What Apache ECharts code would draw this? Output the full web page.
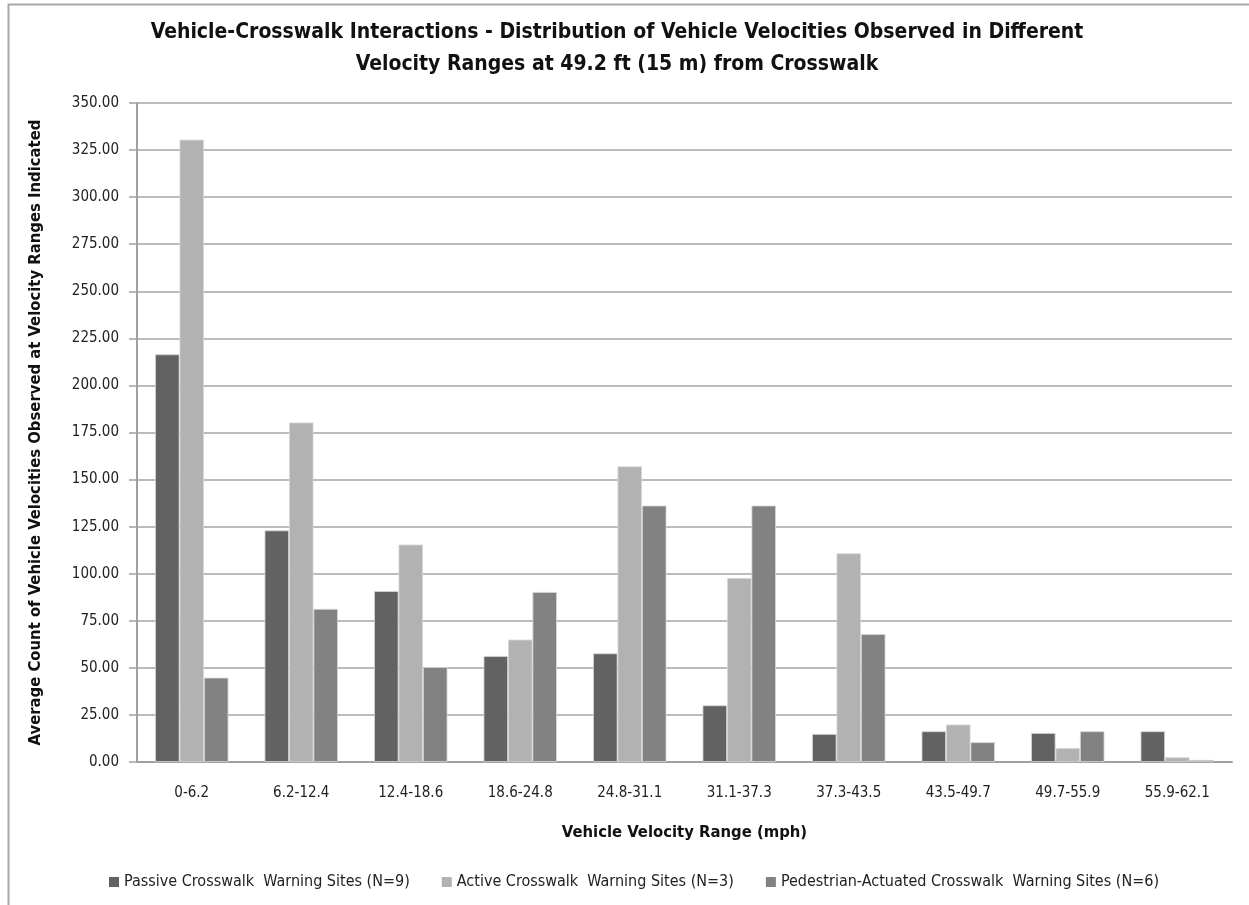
<!DOCTYPE html>
<html>
<head>
<meta charset="utf-8">
<script src="https://cdn.jsdelivr.net/npm/echarts@6/dist/echarts.min.js"></script>
<style>
html,body{margin:0;padding:0;background:#fff;}
#chart{width:1249px;height:905px;}
</style>
</head>
<body>
<div id="chart"></div>
<script>
const categories = ['0-6.2','6.2-12.4','12.4-18.6','18.6-24.8','24.8-31.1','31.1-37.3','37.3-43.5','43.5-49.7','49.7-55.9','55.9-62.1'];
const seriesNames = ['Passive Crosswalk  Warning Sites (N=9)','Active Crosswalk  Warning Sites (N=3)','Pedestrian-Actuated Crosswalk  Warning Sites (N=6)'];
const passive = [216.5, 123.0, 90.8, 56.3, 57.7, 30.1, 14.9, 16.3, 15.4, 16.3];
const active = [330.5, 180.3, 115.5, 65.0, 157.0, 97.7, 110.8, 19.9, 7.4, 2.5];
const pedestrian = [44.8, 81.3, 50.4, 90.3, 136.2, 136.2, 67.9, 10.5, 16.3, 1.1];
const yTicks = {min: 0, max: 350, interval: 25};

const FONT = "'Liberation Sans Narrow', 'DejaVu Sans Condensed', sans-serif";
const colors = ['#626262', '#b2b2b2', '#828282'];

const chart = echarts.init(document.getElementById('chart'), null, {renderer: 'canvas'});
const mk = (i, data) => ({
  name: seriesNames[i], type: 'bar', data: data,
  barGap: '0%', barCategoryGap: '33%',
  itemStyle: {color: colors[i], borderColor: '#d8d8d8', borderWidth: 0.8},
  emphasis: {disabled: true}
});
chart.setOption({
  animation: false,
  textStyle: {fontFamily: FONT},
  color: colors,
  title: {
    text: 'Vehicle-Crosswalk Interactions - Distribution of Vehicle Velocities Observed in Different\nVelocity Ranges at 49.2 ft (15 m) from Crosswalk',
    left: 612, top: 12, textAlign: 'center',
    textStyle: {fontFamily: FONT, fontSize: 21, fontWeight: 'bold', color: '#111', lineHeight: 32}
  },
  graphic: [{
    type: 'rect', shape: {x: 8.5, y: 4.5, width: 1400, height: 1000},
    style: {fill: 'none', stroke: '#a8a8a8', lineWidth: 2}, silent: true, z: -1
  }],
  legend: {
    left: 104, top: 869, itemWidth: 10, itemHeight: 10, itemGap: 32,
    icon: 'rect',
    itemStyle: {borderWidth: 0},
    textStyle: {fontFamily: FONT, fontSize: 16, color: '#222'},
    data: seriesNames
  },
  grid: {left: 137, right: 17, top: 103, bottom: 143, containLabel: false},
  xAxis: {
    type: 'category', data: categories,
    name: 'Vehicle Velocity Range (mph)', nameLocation: 'middle', nameGap: 62,
    nameTextStyle: {fontFamily: FONT, fontSize: 16.5, fontWeight: 'bold', color: '#111'},
    axisLine: {lineStyle: {color: '#a0a0a0', width: 2}},
    axisTick: {show: false},
    axisLabel: {fontFamily: FONT, fontSize: 15, color: '#222', margin: 24}
  },
  yAxis: {
    type: 'value', min: yTicks.min, max: yTicks.max, interval: yTicks.interval,
    name: 'Average Count of Vehicle Velocities Observed at Velocity Ranges Indicated',
    nameLocation: 'middle', nameGap: 93, nameRotate: 90,
    nameTextStyle: {fontFamily: FONT, fontSize: 16.5, fontWeight: 'bold', color: '#111'},
    axisLine: {show: true, lineStyle: {color: '#a0a0a0', width: 2}},
    axisTick: {show: true, length: 8, lineStyle: {color: '#a0a0a0', width: 1.5}},
    axisLabel: {fontFamily: FONT, fontSize: 15, color: '#222', margin: 18,
      formatter: v => v.toFixed(2)},
    splitLine: {lineStyle: {color: '#a4a4a4', width: 1.5}}
  },
  series: [mk(0, passive), mk(1, active), mk(2, pedestrian)]
});
</script>
</body>
</html>
